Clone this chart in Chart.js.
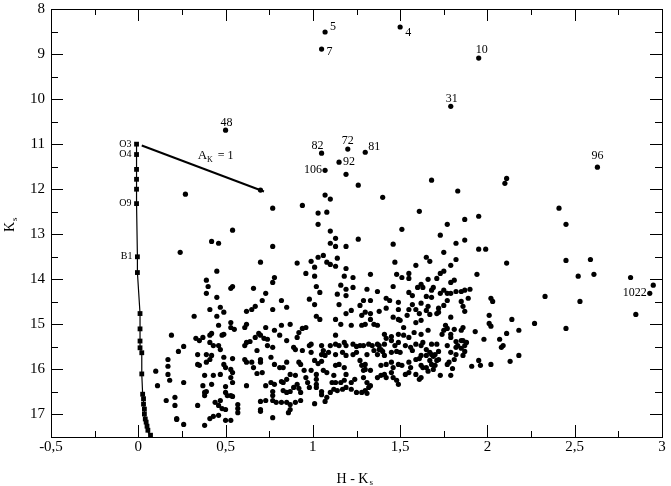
<!DOCTYPE html>
<html><head><meta charset="utf-8">
<script src="https://cdn.jsdelivr.net/npm/chart.js@4.4.0/dist/chart.umd.min.js"></script>
<style>html,body{margin:0;padding:0;background:#fff}#wrap{width:671px;height:486px}</style>
</head><body><div id="wrap"><canvas id="c" width="671" height="486"></canvas></div>
<script>
// ---------------- DATA ----------------
const xTicks = [-0.5, 0, 0.5, 1, 1.5, 2, 2.5, 3];
const yTicks = [8, 9, 10, 11, 12, 13, 14, 15, 16, 17];

// Labelled stars
const namedIds = ['5','4','7','10','31','48','82','72','81','92','106','96','1022'];
const namedHK  = [1.07, 1.50, 1.05, 1.95, 1.79, 0.50, 1.05, 1.20, 1.30, 1.15, 1.07, 2.63, 2.93];
const namedKs  = [8.51, 8.40, 8.89, 9.09, 10.16, 10.69, 11.20, 11.11, 11.18, 11.40, 11.58, 11.51, 14.31];

// Main-sequence track (squares) and spectral type labels
const zamsHK = [-0.01,-0.01,-0.01,-0.01,-0.01,-0.01,-0.005,-0.005,0.01,0.01,0.01,0.01,0.02,0.02,0.025,0.03,0.03,0.035,0.035,0.04,0.045,0.05,0.055,0.07];
const zamsKs = [11.0,11.23,11.56,11.78,12.0,12.32,13.5,13.85,14.76,15.1,15.37,15.52,15.63,16.1,16.55,16.65,16.77,16.88,16.99,17.1,17.17,17.26,17.35,17.46];
const spectralTypes = ['O3','O4','O9','B1'];
const spectralIndex = [0, 1, 5, 6];

// Reddening vector A_K = 1
const vectorHK = [0.02, 0.72];
const vectorKs = [11.03, 12.05];

// Field stars [H-Ks, Ks]
const fieldStars = [
[1.19,11.67],[1.26,11.91],[1.68,11.8],[1.83,12.04],[2.10,11.87],[2.11,11.76],[1.07,12.13],[1.10,12.22],[1.40,12.18],[2.41,12.42],[2.45,12.78],[2.45,13.58],[2.59,13.56],[2.52,13.93],[2.61,13.89],[2.82,13.96],[2.95,14.13],[2.33,14.38],[2.53,14.49],[2.85,14.78],[2.27,14.98],[2.45,15.09],
[0.27,12.11],[0.77,12.42],[0.54,12.91],[0.42,13.16],[0.46,13.2],[0.77,13.27],[0.24,13.4],[0.70,13.62],[0.45,13.82],[0.78,13.96],[0.39,14.02],[0.77,14.07],[0.40,14.16],[0.54,14.16],[0.53,14.2],[0.66,14.2],[0.39,14.31],[0.73,14.31],[0.45,14.4],[0.71,14.47],[0.82,14.47],[0.41,14.67],[0.47,14.62],[0.49,14.73],[0.62,14.71],[0.65,14.67],[0.67,14.6],[0.77,14.67],[0.70,12.02],
[0.94,12.36],[1.03,12.53],[1.08,12.51],[1.61,12.49],[1.03,12.78],[1.10,12.93],[1.51,12.89],[1.13,13.09],[1.26,13.11],[1.10,13.2],[1.13,13.27],[1.19,13.27],[1.46,13.22],[1.03,13.51],[1.06,13.47],[1.14,13.53],[0.99,13.6],[0.91,13.64],[1.08,13.62],[1.10,13.67],[1.13,13.71],[1.47,13.62],[1.59,13.69],[1.01,13.73],[1.19,13.76],[0.96,13.87],[1.01,13.93],[1.18,13.93],[1.23,13.96],[1.33,13.89],[1.48,13.89],[1.51,13.96],[1.55,13.87],[1.55,13.98],[1.02,14.16],[1.16,14.13],[1.19,14.22],[1.23,14.18],[1.46,14.16],[1.60,14.18],[1.62,14.11],[1.04,14.29],[1.31,14.22],[1.37,14.27],[1.14,14.33],[1.19,14.36],[1.55,14.29],[1.57,14.36],[0.98,14.44],[1.29,14.47],[1.33,14.47],[1.42,14.42],[1.44,14.47],[1.49,14.51],[1.62,14.53],[1.01,14.56],[1.15,14.56],[1.27,14.58],[1.57,14.56],[1.59,14.67],[0.85,14.62],[1.22,14.69],[1.19,14.76],[1.30,14.73],[1.33,14.76],[1.42,14.64],[1.38,14.71],[1.49,14.67],[1.55,14.67],[1.61,14.76],
[1.95,12.6],[1.87,12.67],[1.77,12.78],[1.73,13.02],[1.87,13.13],[1.82,13.2],[1.95,13.33],[1.99,13.33],[1.75,13.4],[1.65,13.51],[1.67,13.6],[1.82,13.56],[1.79,13.69],[2.11,13.64],[1.75,13.82],[1.73,13.87],[1.94,13.89],[1.66,14.0],[1.71,13.98],[1.81,14.02],[1.79,14.07],[1.69,14.18],[1.63,14.18],[1.68,14.24],[1.75,14.24],[1.73,14.31],[1.77,14.31],[1.79,14.31],[1.82,14.27],[1.85,14.27],[1.87,14.24],[1.90,14.22],[1.68,14.4],[1.65,14.38],[1.77,14.47],[1.75,14.58],[1.89,14.42],[1.85,14.49],[2.02,14.42],[2.03,14.49],[1.66,14.6],[1.65,14.69],[1.72,14.64],[1.71,14.76],[1.86,14.6],[1.87,14.71],[2.01,14.8],
[0.32,14.82],[0.45,14.82],[0.53,14.96],[0.53,15.07],[0.55,15.11],[0.61,15.07],[0.62,15.0],[0.46,15.02],[0.73,15.07],[0.82,15.02],[0.19,15.24],[0.33,15.31],[0.35,15.36],[0.37,15.29],[0.41,15.24],[0.42,15.2],[0.48,15.24],[0.49,15.22],[0.67,15.29],[0.69,15.2],[0.70,15.24],[0.72,15.31],[0.74,15.33],[0.78,15.13],[0.81,15.24],[0.41,15.4],[0.43,15.47],[0.46,15.47],[0.47,15.56],[0.61,15.47],[0.62,15.4],[0.64,15.38],[0.68,15.58],[0.74,15.47],[0.77,15.51],[0.23,15.6],[0.26,15.49],[0.34,15.67],[0.39,15.67],[0.42,15.69],[0.49,15.73],[0.54,15.76],[0.61,15.78],[0.62,15.84],[0.70,15.78],[0.70,15.84],[0.76,15.73],[0.78,15.89],[0.17,15.78],[0.17,15.93],[0.17,16.11],[0.34,15.89],[0.35,15.91],[0.39,15.84],[0.41,15.78],[0.53,16.0],[0.54,16.07],[0.49,15.89],[0.50,15.96],[0.66,15.96],[0.68,16.09],[0.71,16.07],[0.65,15.84],[0.81,15.96],[0.10,16.04],[0.38,16.13],[0.43,16.13],[0.47,16.11],[0.53,16.18],[0.54,16.29],[0.18,16.24],[0.26,16.29],[0.62,16.36],[0.11,16.36],[0.37,16.36],[0.42,16.33],[0.73,16.36],[0.76,16.29],[0.78,16.33],[0.82,16.27],[0.38,16.51],[0.39,16.49],[0.38,16.58],[0.50,16.38],[0.50,16.51],[0.51,16.58],[0.53,16.58],[0.54,16.6],[0.77,16.49],[0.77,16.58],[0.21,16.62],[0.16,16.69],[0.47,16.69],[0.70,16.71],[0.73,16.69],[0.77,16.69],[0.79,16.73],[0.82,16.73],[0.21,16.8],[0.34,16.8],[0.44,16.73],[0.46,16.8],[0.48,16.87],[0.50,16.89],[0.57,16.78],[0.57,16.87],[0.57,16.96],[0.70,16.89],[0.70,16.93],[0.46,17.02],[0.43,17.04],[0.41,17.09],[0.22,17.09],[0.22,17.11],[0.26,17.22],[0.38,17.24],[0.50,17.13],[0.53,17.13],[0.77,17.07],
[1.02,14.82],[1.04,14.89],[0.87,15.0],[0.96,15.07],[0.94,15.09],[1.13,14.89],[1.16,15.0],[1.22,15.02],[1.28,14.8],[1.33,14.89],[1.28,15.02],[1.30,15.0],[1.35,15.0],[1.37,15.02],[1.46,14.84],[1.49,14.89],[1.50,14.91],[1.52,15.07],[1.54,14.8],[1.59,14.96],[1.62,14.91],[0.92,15.18],[0.91,15.29],[0.89,15.51],[1.13,15.24],[1.41,15.22],[1.42,15.31],[1.45,15.27],[1.49,15.22],[1.52,15.24],[1.55,15.29],[1.58,15.18],[1.62,15.22],[0.85,15.36],[0.99,15.44],[0.98,15.47],[1.05,15.47],[1.06,15.58],[1.10,15.47],[1.13,15.44],[1.15,15.47],[1.18,15.4],[1.19,15.47],[1.23,15.44],[1.25,15.49],[1.27,15.47],[1.29,15.47],[1.32,15.44],[1.34,15.47],[1.37,15.44],[1.38,15.47],[1.39,15.56],[1.41,15.44],[1.45,15.36],[1.47,15.47],[1.49,15.4],[1.53,15.47],[1.56,15.51],[1.59,15.44],[1.62,15.47],
[0.90,15.56],[0.94,15.58],[0.99,15.62],[1.05,15.67],[1.07,15.69],[1.09,15.62],[1.13,15.67],[1.17,15.62],[1.19,15.69],[1.23,15.67],[1.25,15.62],[1.31,15.67],[1.35,15.58],[1.38,15.56],[1.37,15.67],[1.40,15.6],[1.41,15.69],[1.45,15.62],[1.48,15.6],[1.50,15.62],[1.57,15.58],[1.62,15.69],[1.61,15.76],[0.85,15.84],[0.83,15.96],[0.92,15.84],[0.93,15.89],[1.01,15.8],[1.03,15.87],[1.05,15.82],[1.13,15.91],[1.15,15.89],[1.18,15.96],[1.27,15.8],[1.28,15.91],[1.30,15.89],[1.30,16.0],[1.29,16.02],[1.33,16.02],[1.39,15.91],[1.42,15.89],[1.45,15.84],[1.46,15.96],[1.49,15.89],[1.51,15.91],[1.55,15.84],[1.56,15.96],[1.59,15.78],[1.62,15.91],
[0.87,16.11],[0.90,16.13],[0.95,16.02],[0.96,16.18],[0.99,16.02],[1.02,16.11],[1.02,16.22],[1.06,16.02],[1.08,16.07],[1.12,16.13],[1.11,16.29],[1.19,16.11],[1.18,16.24],[1.16,16.29],[1.13,16.29],[1.24,16.22],[1.22,16.29],[1.29,16.18],[1.31,16.29],[1.33,16.36],[1.37,16.18],[1.39,16.13],[1.41,16.11],[1.42,16.18],[1.45,16.07],[1.46,16.18],[1.48,16.24],[1.49,16.33],[1.53,16.11],[1.55,16.07],[1.59,16.11],[1.61,16.22],[1.62,16.18],[0.85,16.22],[0.83,16.29],[0.91,16.33],[0.92,16.42],[0.89,16.4],[0.97,16.29],[0.98,16.4],[1.02,16.33],[1.02,16.4],[1.12,16.44],[1.14,16.47],[1.17,16.44],[1.19,16.4],[1.22,16.44],[1.25,16.51],[1.28,16.51],[1.30,16.47],[1.32,16.4],[1.31,16.53],[0.83,16.47],[0.85,16.51],[0.87,16.49],[0.93,16.51],[1.05,16.49],[1.05,16.56],[1.10,16.51],[0.93,16.69],[0.90,16.73],[0.87,16.78],[0.85,16.73],[1.01,16.76],[1.07,16.71],[1.08,16.62],[0.87,16.89],[0.86,16.96],
[1.67,14.78],[1.72,14.73],[1.79,14.84],[2.14,14.89],[2.01,14.98],[2.02,15.04],[1.76,15.02],[1.75,15.13],[1.77,15.09],[1.74,15.22],[1.81,15.11],[1.86,15.07],[1.85,15.13],[1.93,15.16],[2.11,15.2],[2.18,15.13],[1.66,15.13],[1.79,15.22],[1.79,15.29],[1.98,15.33],[2.07,15.33],[1.63,15.4],[1.68,15.44],[1.71,15.44],[1.77,15.47],[1.82,15.38],[1.85,15.36],[1.86,15.36],[1.88,15.4],[1.87,15.47],[1.83,15.47],[1.82,15.51],[1.85,15.53],[2.09,15.47],[2.08,15.51],[1.65,15.56],[1.67,15.62],[1.72,15.6],[1.70,15.67],[1.69,15.71],[1.68,15.67],[1.79,15.62],[1.82,15.67],[1.87,15.6],[1.86,15.69],[1.65,15.69],[1.72,15.78],[1.71,15.8],[1.67,15.8],[1.68,15.89],[1.81,15.78],[2.18,15.69],[1.63,15.96],[1.65,15.96],[1.70,15.91],[1.69,16.0],[1.77,15.89],[1.78,15.84],[1.66,16.04],[1.91,15.93],[1.95,15.8],[1.96,15.91],[2.02,15.89],[2.13,15.82],[1.73,16.13],[1.80,15.98],[1.79,16.13]
];

// ---------------- CHART ----------------
const FONT = "'Liberation Serif', 'DejaVu Serif', serif";
const fmt = v => String(v).replace('.', ',');
const pts = (xs, ys) => xs.map((x, i) => ({x: x, y: ys[i]}));

const decor = {
  id: 'decor',
  afterDraw(chart) {
    const ctx = chart.ctx, a = chart.chartArea, sx = chart.scales.x, sy = chart.scales.y;
    ctx.save();
    ctx.strokeStyle = '#000'; ctx.fillStyle = '#000'; ctx.lineWidth = 1;
    // frame
    ctx.strokeRect(Math.round(a.left) + 0.5, Math.round(a.top) + 0.5, Math.round(a.right - a.left), Math.round(a.bottom - a.top));
    // ticks (inward)
    ctx.beginPath();
    const xv = [];
    for (let v = -0.5; v <= 3.001; v += 0.25) xv.push(+v.toFixed(2));
    xv.forEach(v => {
      const major = Math.abs(v * 2 - Math.round(v * 2)) < 1e-6;
      const L = major ? 12 : 6;
      const p = Math.round(sx.getPixelForValue(v)) + 0.5;
      ctx.moveTo(p, a.bottom); ctx.lineTo(p, a.bottom - L);
      ctx.moveTo(p, a.top); ctx.lineTo(p, a.top + L);
    });
    for (let v = 8; v <= 17.5001; v += 0.5) {
      const major = Math.abs(v - Math.round(v)) < 1e-6;
      const L = major ? 12 : 7;
      const p = Math.round(sy.getPixelForValue(v)) + 0.5;
      ctx.moveTo(a.left, p); ctx.lineTo(a.left + L, p);
      ctx.moveTo(a.right, p); ctx.lineTo(a.right - L, p);
    }
    ctx.stroke();

    // star labels
    const off = {'5':[5,-5,'left'],'4':[5,6,'left'],'7':[5,3,'left'],'10':[3,-8,'center'],'31':[1,-7,'center'],
      '48':[1,-7,'center'],'82':[-4,-7,'center'],'72':[0,-8,'center'],'81':[3,-5,'left'],'92':[4,0,'left'],
      '106':[-3,0,'right'],'96':[0,-11,'center'],'1022':[-3,0,'right']};
    ctx.font = '12px ' + FONT; ctx.textBaseline = 'middle';
    namedIds.forEach((id, i) => {
      const o = off[id] || [4, 0, 'left'];
      ctx.textAlign = o[2];
      ctx.fillText(id, sx.getPixelForValue(namedHK[i]) + o[0], sy.getPixelForValue(namedKs[i]) + o[1]);
    });
    // spectral labels
    ctx.font = '10px ' + FONT; ctx.textAlign = 'right';
    spectralTypes.forEach((t, k) => {
      const i = spectralIndex[k];
      ctx.fillText(t, sx.getPixelForValue(zamsHK[i]) - 5, sy.getPixelForValue(zamsKs[i]));
    });
    // A_K = 1 label
    const lx = sx.getPixelForValue(0.34), ly = sy.getPixelForValue(11.32);
    ctx.textAlign = 'left'; ctx.textBaseline = 'alphabetic';
    ctx.font = '13px ' + FONT; ctx.fillText('A', lx, ly);
    const wA = ctx.measureText('A').width;
    ctx.font = '8px ' + FONT; ctx.fillText('K', lx + wA, ly + 3);
    const wK = ctx.measureText('K').width;
    ctx.font = '12px ' + FONT; ctx.fillText(' = 1', lx + wA + wK + 2, ly);

    // axis titles
    ctx.font = '14px ' + FONT; ctx.textAlign = 'left'; ctx.textBaseline = 'alphabetic';
    const t1 = 'H - K';
    const w1 = ctx.measureText(t1).width;
    const cx = (a.left + a.right) / 2 - 4;
    ctx.fillText(t1, cx - w1 / 2, 483);
    ctx.font = '9px ' + FONT; ctx.fillText('s', cx + w1 / 2 + 1, 485);

    ctx.save();
    ctx.translate(14, 232);
    ctx.rotate(-Math.PI / 2);
    ctx.font = '14px ' + FONT; ctx.fillText('K', 0, 0);
    const wk = ctx.measureText('K').width;
    ctx.font = '9px ' + FONT; ctx.fillText('s', wk + 1, 3);
    ctx.restore();
    ctx.restore();
  }
};

const fixScale = s => { s.paddingLeft = 0; s.paddingRight = 0; s.paddingTop = 0; s.paddingBottom = 0; };

new Chart(document.getElementById('c'), {
  type: 'scatter',
  data: {
    datasets: [
      { data: pts(zamsHK, zamsKs), showLine: true, borderColor: '#000', borderWidth: 1.2,
        pointStyle: 'rect', pointRadius: 3.4, pointBackgroundColor: '#000', pointBorderWidth: 0, order: 3 },
      { data: pts(vectorHK, vectorKs), showLine: true, borderColor: '#000', borderWidth: 2, pointRadius: 0, order: 2 },
      { data: fieldStars.map(p => ({x: p[0], y: p[1]})), pointRadius: 2.6, pointBackgroundColor: '#000',
        pointBorderWidth: 0, showLine: false, order: 1 },
      { data: pts(namedHK, namedKs), pointRadius: 2.6, pointBackgroundColor: '#000',
        pointBorderWidth: 0, showLine: false, order: 0 }
    ]
  },
  options: {
    responsive: false, animation: false, devicePixelRatio: 1, events: [],
    layout: { padding: { left: 0, right: 9, top: 9, bottom: 0 } },
    plugins: { legend: { display: false }, tooltip: { enabled: false } },
    scales: {
      x: {
        type: 'linear', min: -0.5, max: 3,
        afterBuildTicks: s => { s.ticks = xTicks.map(v => ({value: v})); },
        afterFit: s => { s.height = 49; fixScale(s); },
        grid: { display: false, drawTicks: false },
        border: { display: false },
        ticks: { color: '#000', font: { family: FONT, size: 15 }, padding: 1, maxRotation: 0, autoSkip: false,
          callback: v => fmt(v) }
      },
      y: {
        type: 'linear', min: 8, max: 17.5, reverse: true,
        afterBuildTicks: s => { s.ticks = yTicks.map(v => ({value: v})); },
        afterFit: s => { s.width = 51; fixScale(s); },
        grid: { display: false, drawTicks: false },
        border: { display: false },
        ticks: { color: '#000', font: { family: FONT, size: 15 }, padding: 6, autoSkip: false,
          callback: v => fmt(v) }
      }
    }
  },
  plugins: [decor]
});
</script></body></html>
